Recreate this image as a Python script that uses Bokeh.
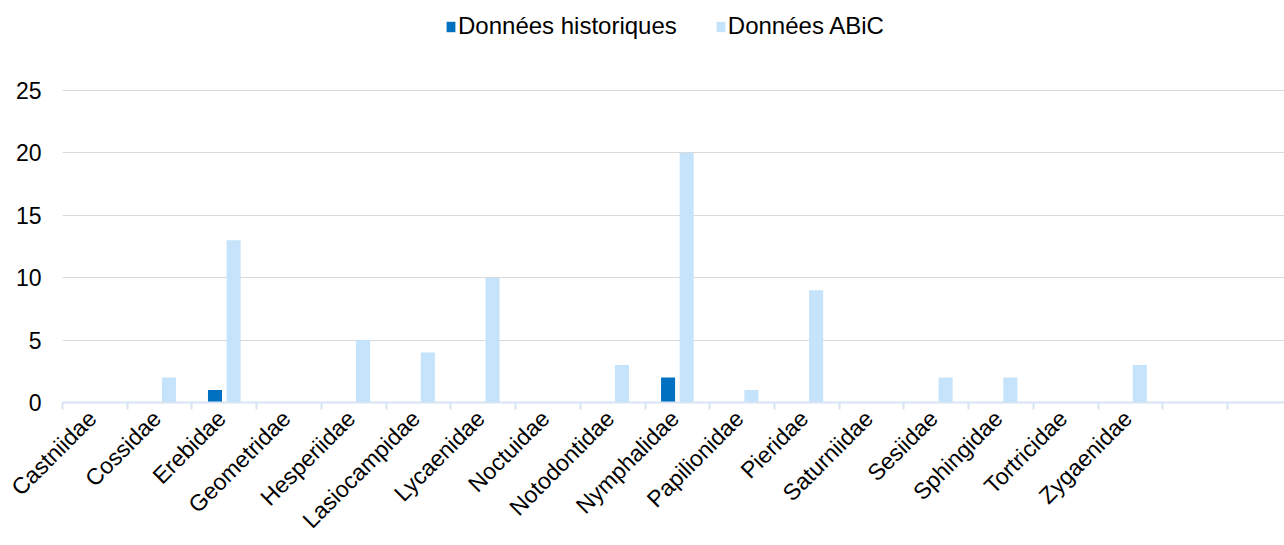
import numpy as np
from bokeh.plotting import figure
from bokeh.models import ColumnDataSource, FixedTicker, Legend, LegendItem, Range1d
from bokeh.transform import dodge
from bokeh.embed import file_html
from bokeh.resources import INLINE

families = ["Castniidae", "Cossidae", "Erebidae", "Geometridae", "Hesperiidae",
            "Lasiocampidae", "Lycaenidae", "Noctuidae", "Notodontidae", "Nymphalidae",
            "Papilionidae", "Pieridae", "Saturniidae", "Sesiidae", "Sphingidae",
            "Tortricidae", "Zygaenidae", ""]
historiques = [0, 0, 1, 0, 0, 0, 0, 0, 0, 2, 0, 0, 0, 0, 0, 0, 0, 0]
abic = [0, 2, 13, 0, 5, 4, 10, 0, 3, 20, 1, 9, 0, 2, 2, 0, 3, 0]
y_ticks = [0, 5, 10, 15, 20, 25]

n = len(families)
centers = [i + 0.5 for i in range(n)]
label_pos = [c - 0.04 for c in centers]
src = ColumnDataSource(dict(x=centers, hist=historiques, abic=abic))

FONT = "Liberation Sans"
FS = "23px"
p = figure(width=1284, height=545, output_backend="svg", toolbar_location=None,
           x_range=Range1d(0, 18.88), y_range=Range1d(0, 31.4),
           min_border_left=62, min_border_right=0, min_border_top=10, min_border_bottom=142)
p.outline_line_color = None

r1 = p.vbar(x=dodge("x", -0.144, range=p.x_range), top="hist", width=0.217, source=src,
            fill_color="#0070C0", line_color=None)
r2 = p.vbar(x=dodge("x", 0.144, range=p.x_range), top="abic", width=0.217, source=src,
            fill_color="#C5E3FA", line_color=None)

# x axis: labels near category centers, minor ticks at category boundaries
p.xaxis.ticker = FixedTicker(ticks=label_pos, minor_ticks=list(range(n + 1)))
p.xaxis.major_label_overrides = {c: f for c, f in zip(label_pos, families)}
p.xaxis.major_label_orientation = np.pi / 4
p.xaxis.major_tick_line_color = None
p.xaxis.minor_tick_line_color = "#D6E4F4"
p.xaxis.minor_tick_line_width = 2
p.xaxis.minor_tick_out = 7
p.xaxis.minor_tick_in = 0
p.xaxis.axis_line_color = "#D6E4F4"
p.xaxis.axis_line_width = 2
p.xaxis.major_label_text_font = FONT
p.xaxis.major_label_text_font_size = FS
p.xaxis.major_label_text_color = "#000000"
p.xaxis.major_label_standoff = 5

p.yaxis.ticker = FixedTicker(ticks=y_ticks)
p.yaxis.axis_line_color = None
p.yaxis.major_tick_line_color = None
p.yaxis.minor_tick_line_color = None
p.yaxis.major_label_text_font = FONT
p.yaxis.major_label_text_font_size = FS
p.yaxis.major_label_text_color = "#000000"
p.yaxis.major_label_standoff = 15

p.xgrid.grid_line_color = None
p.ygrid.grid_line_color = "#D9D9D9"
p.ygrid.grid_line_width = 1

legend = Legend(items=[LegendItem(label="Données historiques", renderers=[r1]),
                       LegendItem(label="Données ABiC", renderers=[r2])],
                orientation="horizontal", location=(383, 362),
                label_text_font=FONT, label_text_font_size="24px",
                label_text_color="#000000",
                glyph_width=11, glyph_height=13, label_standoff=2, spacing=38,
                padding=0, margin=0, border_line_color=None,
                background_fill_alpha=0)
p.add_layout(legend, "center")

open("out.html", "w").write(file_html(p, INLINE))
